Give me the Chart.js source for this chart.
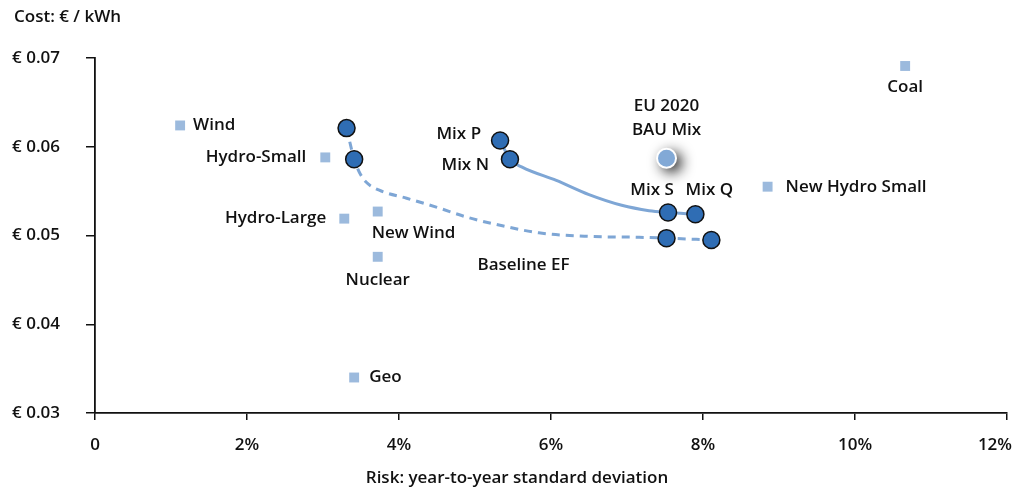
<!DOCTYPE html>
<html>
<head>
<meta charset="utf-8">
<script src="https://cdn.jsdelivr.net/npm/chart.js@4"></script>
<style>
  html, body { margin: 0; padding: 0; background: #fff; }
  #wrap { width: 1021px; height: 494px; }
</style>
</head>
<body>
<div id="wrap"><canvas id="myChart" width="1021" height="494"></canvas></div>
<script>
// technologies (light squares)
const techNames = ['Wind', 'Hydro-Small', 'Hydro-Large', 'New Wind', 'Nuclear', 'Geo', 'Coal', 'New Hydro Small'];
const techRisk = [1.12, 3.03, 3.28, 3.72, 3.72, 3.41, 10.66, 8.85];
const techCost = [0.0624, 0.0588, 0.0519, 0.0527, 0.0476, 0.0340, 0.0691, 0.0555];

// baseline efficient frontier (dashed)
const baseNames = ['', '', 'Baseline EF', ''];
const baseRisk = [3.31, 3.41, 7.52, 8.11];
const baseCost = [0.0621, 0.0586, 0.0497, 0.0495];
const baseCurveRisk = [3.31, 3.41, 3.48, 3.57, 3.74, 4.10, 4.49, 4.92, 5.36, 5.84, 6.50, 7.16, 7.52, 8.11];
const baseCurveCost = [0.0621, 0.0586, 0.0571, 0.0560, 0.0551, 0.0542, 0.0532, 0.0520, 0.0511, 0.0503, 0.0499, 0.0498, 0.0497, 0.0495];

// mixes (solid frontier)
const mixNames = ['Mix P', 'Mix N', 'Mix S', 'Mix Q'];
const mixRisk = [5.33, 5.46, 7.54, 7.90];
const mixCost = [0.0607, 0.0586, 0.0526, 0.0524];
const mixCurveRisk = [5.33, 5.46, 5.62, 6.07, 6.50, 6.93, 7.29, 7.54, 7.90];
const mixCurveCost = [0.0607, 0.0586, 0.0577, 0.0562, 0.0546, 0.0534, 0.0528, 0.0526, 0.0524];

// EU 2020 BAU mix
const bauNames = ['EU 2020\nBAU Mix'];
const bauRisk = [7.52];
const bauCost = [0.0587];

const xTicks = [0, 2, 4, 6, 8, 10, 12];
const xTickLabels = ['0', '2%', '4%', '6%', '8%', '10%', '12%'];
const yTicks = [0.03, 0.04, 0.05, 0.06, 0.07];

// label placement (pixels from the point)
const labelPlace = {
  'Wind': [13, 0, 'left'],
  'Hydro-Small': [-19, 0, 'right'],
  'Hydro-Large': [-18, 0, 'right'],
  'New Wind': [-6, 22, 'left'],
  'Nuclear': [0, 23, 'center'],
  'Geo': [15, 0, 'left'],
  'Coal': [0, 21, 'center'],
  'New Hydro Small': [18, 0, 'left'],
  'Baseline EF': [-143, 27, 'center'],
  'Mix P': [-19, -6, 'right'],
  'Mix N': [-21, 6, 'right'],
  'Mix S': [-16, -22, 'center'],
  'Mix Q': [14, -24, 'center'],
  'EU 2020\nBAU Mix': [0, -52, 'center']
};

const FONT = '"Open Sans", "Noto Sans", sans-serif';
const DARK = '#2f6db4';
const LIGHT = '#9cbadd';
const LINE = '#7ea6d5';

function pts(xs, ys) {
  return xs.map((x, i) => ({ x: x, y: ys[i] }));
}

const labelPlugin = {
  id: 'pointLabels',
  afterDatasetsDraw(chart) {
    const ctx = chart.ctx;
    ctx.save();
    ctx.fillStyle = '#111';
    ctx.font = '600 17px ' + FONT;
    ctx.textBaseline = 'middle';
    chart.data.datasets.forEach((ds, di) => {
      if (!ds.names) return;
      const meta = chart.getDatasetMeta(di);
      ds.names.forEach((name, i) => {
        if (!name) return;
        const p = labelPlace[name];
        const el = meta.data[i];
        ctx.textAlign = p[2];
        name.split('\n').forEach((line, li) => {
          ctx.fillText(line, el.x + p[0], el.y + p[1] + li * 24);
        });
      });
    });
    // x tick labels (last one pulled in so it stays on the canvas)
    const xs = chart.scales.x;
    xTicks.forEach((v, i) => {
      const px = xs.getPixelForValue(v);
      const last = i === xTicks.length - 1;
      ctx.textAlign = last ? 'right' : 'center';
      ctx.fillText(xTickLabels[i], last ? px + 5 : px, 445);
    });
    // axis titles
    ctx.textAlign = 'left';
    ctx.fillText('Cost: € / kWh', 14, 17);
    ctx.textAlign = 'center';
    ctx.fillText('Risk: year-to-year standard deviation', 517, 478);
    ctx.restore();
  }
};

// soft drop shadow under the BAU point only (drawn off-canvas, shadow shifted in)
const shadowPlugin = {
  id: 'bauShadow',
  beforeDatasetDraw(chart, args) {
    if (args.index !== 2) return;
    const ctx = chart.ctx;
    const off = 5000;
    ctx.save();
    ctx.shadowColor = 'rgba(0,0,0,0.95)';
    ctx.shadowBlur = 14;
    ctx.shadowOffsetX = off + 5;
    ctx.shadowOffsetY = 4;
    ctx.fillStyle = '#000';
    args.meta.data.forEach(el => {
      ctx.beginPath();
      ctx.arc(el.x - off, el.y, 10, 0, Math.PI * 2);
      ctx.fill();
    });
    ctx.restore();
  }
};

const config = {
  type: 'scatter',
  data: {
    datasets: [
      {
        label: 'Mixes',
        names: mixNames,
        data: pts(mixRisk, mixCost),
        pointRadius: 8.5,
        pointBackgroundColor: DARK,
        pointBorderColor: '#111',
        pointBorderWidth: 1.5
      },
      {
        label: 'Baseline',
        names: baseNames,
        data: pts(baseRisk, baseCost),
        pointRadius: 8.5,
        pointBackgroundColor: DARK,
        pointBorderColor: '#111',
        pointBorderWidth: 1.5
      },
      {
        label: 'BAU',
        names: bauNames,
        data: pts(bauRisk, bauCost),
        pointRadius: 9.5,
        pointBackgroundColor: '#82a9d6',
        pointBorderColor: '#fff',
        pointBorderWidth: 2
      },
      {
        label: 'Technologies',
        names: techNames,
        data: pts(techRisk, techCost),
        pointStyle: 'rect',
        pointRadius: 7,
        pointBackgroundColor: LIGHT,
        pointBorderColor: LIGHT,
        pointBorderWidth: 0
      },
      {
        label: 'Mix curve',
        data: pts(mixCurveRisk, mixCurveCost),
        showLine: true,
        pointRadius: 0,
        borderColor: LINE,
        borderWidth: 3,
        tension: 0.4,
        cubicInterpolationMode: 'monotone'
      },
      {
        label: 'Baseline curve',
        data: pts(baseCurveRisk, baseCurveCost),
        showLine: true,
        pointRadius: 0,
        borderColor: LINE,
        borderWidth: 3,
        borderDash: [8, 6],
        tension: 0.4,
        cubicInterpolationMode: 'monotone'
      }
    ]
  },
  options: {
    responsive: false,
    animation: false,
    layout: { padding: { top: 58, right: 14, bottom: 0, left: 0 } },
    plugins: {
      legend: { display: false },
      tooltip: { enabled: false }
    },
    scales: {
      x: {
        type: 'linear',
        min: 0,
        max: 12,
        afterBuildTicks: (s) => { s.ticks = xTicks.map(v => ({ value: v })); },
        afterFit: (s) => { s.height = 81; s.paddingLeft = 0; s.paddingRight = 0; },
        grid: { display: true, drawOnChartArea: false, tickLength: 7, color: '#111', lineWidth: 1.5 },
        border: { color: '#111', width: 1.8 },
        ticks: {
          color: 'rgba(0,0,0,0)',
          font: { family: FONT, size: 17, weight: 600 },
          padding: 14,
          maxRotation: 0,
          callback: (v) => v === 0 ? '0' : v + '%'
        }
      },
      y: {
        type: 'linear',
        min: 0.03,
        max: 0.07,
        afterBuildTicks: (s) => { s.ticks = yTicks.map(v => ({ value: v })); },
        afterFit: (s) => { s.width = 95; s.paddingTop = 0; s.paddingBottom = 0; },
        grid: { display: true, drawOnChartArea: false, tickLength: 9, color: '#111', lineWidth: 1.5 },
        border: { color: '#111', width: 1.8 },
        ticks: {
          color: '#111',
          font: { family: FONT, size: 17, weight: 600 },
          padding: 26,
          callback: (v) => '€ ' + v.toFixed(2)
        }
      }
    }
  },
  plugins: [shadowPlugin, labelPlugin]
};

new Chart(document.getElementById('myChart'), config);
</script>
</body>
</html>
